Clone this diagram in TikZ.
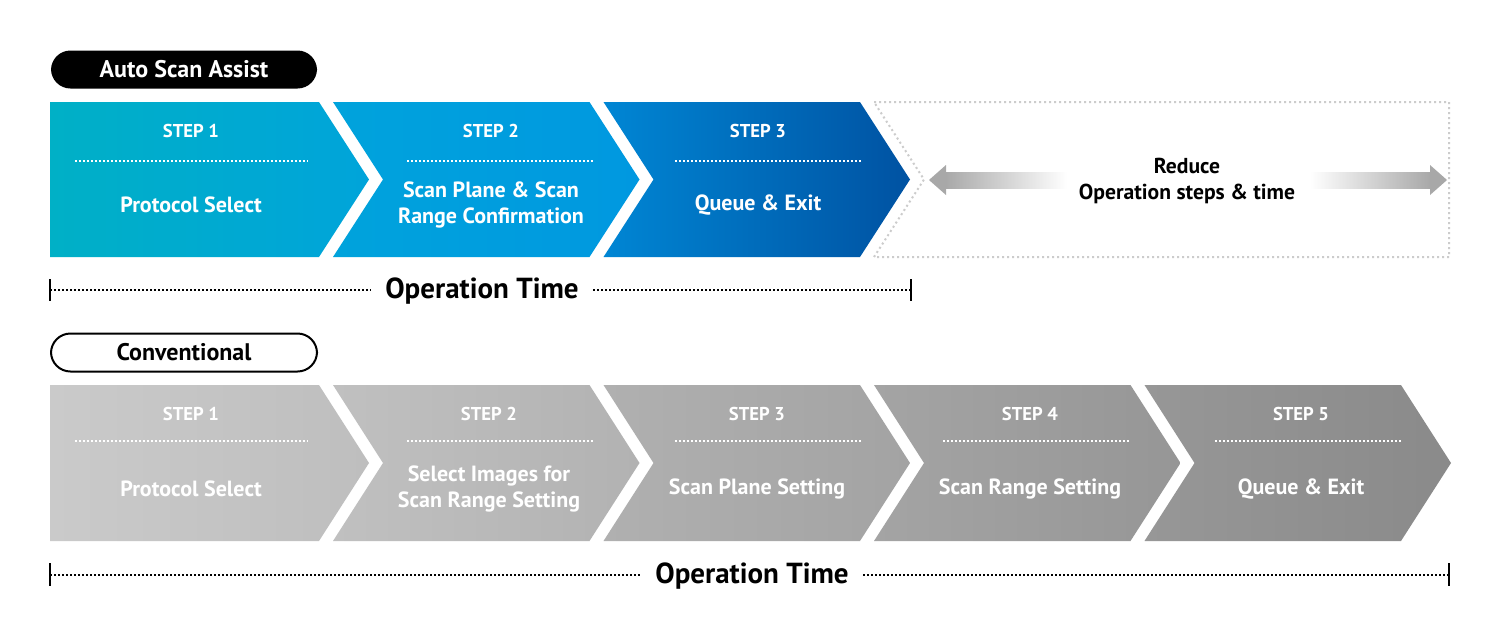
\documentclass[tikz,border=0pt]{standalone}
\usepackage{fontspec}
\setmainfont{PT Sans}
\usetikzlibrary{positioning}

\definecolor{tealA}{RGB}{0,176,198}
\definecolor{tealB}{RGB}{0,164,218}
\definecolor{cyanA}{RGB}{0,163,220}
\definecolor{cyanB}{RGB}{0,152,224}
\definecolor{blueA}{RGB}{0,134,212}
\definecolor{blueB}{RGB}{0,82,162}
\definecolor{greyA}{RGB}{202,202,202}
\definecolor{greyB}{RGB}{190,190,190}
\definecolor{greyC}{RGB}{192,192,192}
\definecolor{greyD}{RGB}{178,178,178}
\definecolor{greyE}{RGB}{176,176,176}
\definecolor{greyF}{RGB}{163,163,163}
\definecolor{greyG}{RGB}{164,164,164}
\definecolor{greyH}{RGB}{150,150,150}
\definecolor{greyI}{RGB}{151,151,151}
\definecolor{greyJ}{RGB}{138,138,138}
\definecolor{arrowgrey}{RGB}{168,168,168}
\definecolor{boxgrey}{RGB}{204,204,204}

\tikzset{
  pill/.style={rounded corners=9.75pt, minimum width=133pt, minimum height=19pt,
    inner sep=0pt, font=\bfseries\fontsize{12}{14}\selectfont},
  steptag/.style={text=white, font=\bfseries\fontsize{9.3}{11}\selectfont},
  steplab/.style={text=white, align=center, font=\bfseries\fontsize{11}{13}\selectfont},
  sepline/.style={white, line width=0.75pt, dash pattern=on 0.75pt off 1.25pt},
  timeline/.style={black, line width=0.6pt, dash pattern=on 1pt off 1pt},
  timetick/.style={black, line width=1pt},
  timelab/.style={font=\bfseries\fontsize{14.5}{17}\selectfont, inner sep=7pt},
  reducebox/.style={boxgrey, line width=1pt, dash pattern=on 1pt off 1.5pt},
}

\begin{document}
\begin{tikzpicture}[x=0.5pt,y=-0.5pt]
\fill[white] (0,0) rectangle (1500,638);
\useasboundingbox (0,0) rectangle (1500,638);

% top row: auto scan assist
\node[pill, fill=black, text=white] (autotag) at (184,69.5) {Auto Scan Assist};
\foreach \lft/\nch/\rgt/\ca/\cb/\cx/\la/\lb/\lab [count=\i] in {
  50/0/319/tealA/tealB/191/75/308/{Protocol Select},
  333/50/589.5/cyanA/cyanB/491/407/594/{Scan Plane \& Scan\\Range Confirmation},
  603.5/50/860/blueA/blueB/758/675/862/{Queue \& Exit}}
{
  \shade[left color=\ca, right color=\cb] (\lft,102) -- (\rgt,102) -- (\rgt+50,179.5)
    -- (\rgt,257) -- (\lft,257) -- (\lft+\nch,179.5) -- cycle;
  \node[steptag] (as\i) at (\cx,131) {STEP \i};
  \draw[sepline] (\la,161) -- (\lb,161);
  \node[steplab] (asl\i) at (\cx,205) {\lab};
}

% saved steps
\draw[reducebox] (874,102) -- (1449,102) -- (1449,257) -- (874,257) -- (924,179.5) -- cycle;
\node[align=center, font=\bfseries\fontsize{10.8}{13}\selectfont] (reduce) at (1187,181)
  {Reduce\\Operation steps \& time};
\shade[left color=arrowgrey, right color=white] (945,172) rectangle (1067,188);
\fill[arrowgrey] (929,180) -- (946,165) -- (946,195) -- cycle;
\shade[left color=white, right color=arrowgrey] (1310,172) rectangle (1431,188);
\fill[arrowgrey] (1447,180) -- (1430,165) -- (1430,195) -- cycle;

% top operation time
\coordinate (tsA) at (50,290);
\coordinate (teA) at (911,290);
\node[timelab] (optA) at (482,291) {Operation Time};
\draw[timetick] (50,279) -- (50,301);
\draw[timetick] (911,279) -- (911,301);
\draw[timeline] (tsA) -- (tsA -| optA.west);
\draw[timeline] (teA -| optA.east) -- (teA);

% bottom row: conventional
\node[pill, draw=black, line width=1pt, text=black] (convtag) at (184,352.5) {Conventional};
\foreach \lft/\nch/\rgt/\ca/\cb/\cx/\la/\lb/\lab [count=\i] in {
  50/0/319/greyA/greyB/191/75/308/{Protocol Select},
  333/50/589.5/greyC/greyD/489/407/594/{Select Images for\\Scan Range Setting},
  603.5/50/860/greyE/greyF/757/675/862/{Scan Plane Setting},
  874/50/1130.5/greyG/greyH/1030/943/1130/{Scan Range Setting},
  1144.5/50/1401/greyI/greyJ/1301/1215/1402/{Queue \& Exit}}
{
  \shade[left color=\ca, right color=\cb] (\lft,385) -- (\rgt,385) -- (\rgt+50,463)
    -- (\rgt,541) -- (\lft,541) -- (\lft+\nch,463) -- cycle;
  \node[steptag] (cv\i) at (\cx,414) {STEP \i};
  \draw[sepline] (\la,441) -- (\lb,441);
  \node[steplab] (cvl\i) at (\cx,489) {\lab};
}

% bottom operation time
\coordinate (tsB) at (50,575);
\coordinate (teB) at (1449,575);
\node[timelab] (optB) at (752,576) {Operation Time};
\draw[timetick] (50,563) -- (50,586);
\draw[timetick] (1449,563) -- (1449,586);
\draw[timeline] (tsB) -- (tsB -| optB.west);
\draw[timeline] (teB -| optB.east) -- (teB);
\end{tikzpicture}
\end{document}
